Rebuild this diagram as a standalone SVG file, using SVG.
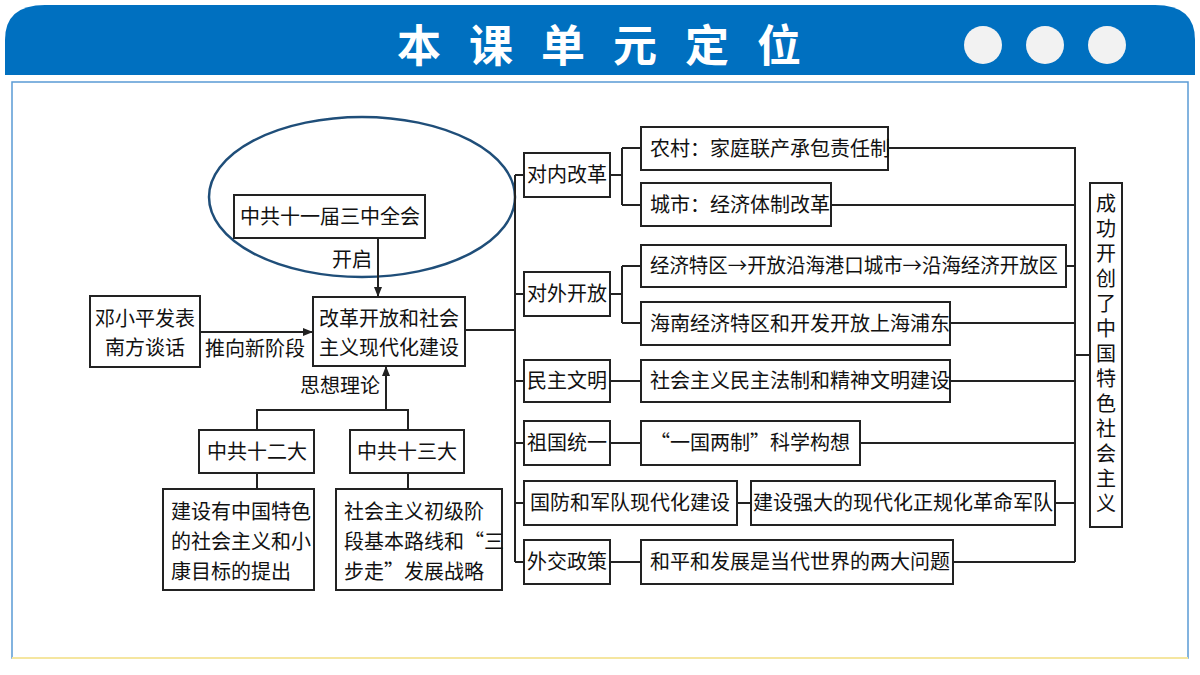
<svg xmlns="http://www.w3.org/2000/svg" width="1200" height="675" viewBox="0 0 1200 675">
<style>
.b{fill:#fff;stroke:#222;stroke-width:2}
.t{font-family:"Noto Sans CJK SC","Liberation Sans",sans-serif;font-size:20px;fill:#111}
.c{text-anchor:middle}
.l{fill:none;stroke:#222;stroke-width:2}
</style>
<defs><marker id="a" markerWidth="10" markerHeight="10" refX="9" refY="5" orient="auto" markerUnits="userSpaceOnUse"><path d="M0,1 L10,5 L0,9 Z" fill="#222"/></marker></defs>
<rect width="1200" height="675" fill="#fff"/>
<path d="M5,75 V40 Q5,5 45,5 H1155 Q1195,5 1195,40 V75 Z" fill="#0070C0"/>
<text x="613" y="62" class="c" style="font-family:'Noto Sans CJK SC',sans-serif;font-size:44px;font-weight:bold;fill:#fff;letter-spacing:28px">本课单元定位</text>
<g fill="#f2f2f2"><circle cx="983" cy="45" r="19"/><circle cx="1045" cy="45" r="19"/><circle cx="1107" cy="45" r="19"/></g>
<rect x="12" y="82" width="1176" height="576" fill="none" stroke="#5a9bd5" stroke-width="1.5"/>
<line x1="12" y1="658" x2="1188" y2="658" stroke="#f5e6a0" stroke-width="2"/>
<g id="connectors">
<ellipse cx="362" cy="197" rx="153" ry="80" fill="none" stroke="#1f4e79" stroke-width="2.5"/>
<line class="l" x1="378" y1="238" x2="378" y2="296" marker-end="url(#a)"/>
<line class="l" x1="200" y1="332" x2="312" y2="332" marker-end="url(#a)"/>
<line class="l" x1="386" y1="410" x2="386" y2="367" marker-end="url(#a)"/>
<path class="l" d="M257,430 V410 H408 V430 M257,473 V489 M408,473 V489"/>
<path class="l" d="M465,330 H515 M515,175 V562 M515,175 H524 M515,294 H524 M515,381 H524 M515,443 H524 M515,503 H524 M515,562 H524"/>
<path class="l" d="M610,175 H622 M622,148 V205 M622,148 H641 M622,205 H641 M610,294 H622 M622,266 V323 M622,266 H641 M622,323 H641 M610,381 H641 M610,443 H641 M737,503 H751 M610,562 H641"/>
<path class="l" d="M888,148 H1075 V562 M831,205 H1075 M1066,266 H1075 M950,323 H1075 M950,381 H1075 M860,443 H1075 M1055,503 H1075 M953,562 H1075 M1075,355 H1090"/>
<text x="352" y="267" class="t c">开启</text>
<text x="255" y="356" class="t c">推向新阶段</text>
<text x="340" y="393" class="t c">思想理论</text>
</g>
<g id="n1"><rect class="b" x="234" y="195" width="191" height="43"/><text x="330" y="224" class="t c">中共十一届三中全会</text></g>
<g id="n2"><rect class="b" x="313" y="297" width="152" height="69"/><text x="389" y="326" class="t c">改革开放和社会</text><text x="389" y="355" class="t c">主义现代化建设</text></g>
<g id="n3"><rect class="b" x="90" y="296" width="110" height="71"/><text x="145" y="326" class="t c">邓小平发表</text><text x="145" y="355" class="t c">南方谈话</text></g>
<g id="n4"><rect class="b" x="199" y="430" width="115" height="43"/><text x="257" y="459" class="t c">中共十二大</text></g>
<g id="n5"><rect class="b" x="350" y="430" width="114" height="43"/><text x="407" y="459" class="t c">中共十三大</text></g>
<g id="n6"><rect class="b" x="163" y="489" width="151" height="101"/><text x="171" y="519" class="t">建设有中国特色</text><text x="171" y="549" class="t">的社会主义和小</text><text x="171" y="579" class="t">康目标的提出</text></g>
<g id="n7"><rect class="b" x="336" y="489" width="166" height="101"/><text x="344" y="519" class="t">社会主义初级阶</text><text x="344" y="549" class="t">段基本路线和“三</text><text x="344" y="579" class="t">步走”发展战略</text></g>
<g id="n8"><rect class="b" x="524" y="153" width="86" height="44"/><text x="567" y="182" class="t c">对内改革</text></g>
<g id="n9"><rect class="b" x="641" y="127" width="247" height="43"/><text x="650" y="156" class="t">农村：家庭联产承包责任制</text></g>
<g id="n10"><rect class="b" x="641" y="183" width="190" height="43"/><text x="650" y="212" class="t">城市：经济体制改革</text></g>
<g id="n11"><rect class="b" x="524" y="272" width="86" height="44"/><text x="567" y="301" class="t c">对外开放</text></g>
<g id="n12"><rect class="b" x="641" y="245" width="425" height="42"/><text x="650" y="273" class="t" textLength="408" lengthAdjust="spacingAndGlyphs">经济特区→开放沿海港口城市→沿海经济开放区</text></g>
<g id="n13"><rect class="b" x="641" y="302" width="309" height="43"/><text x="650" y="331" class="t">海南经济特区和开发开放上海浦东</text></g>
<g id="n14"><rect class="b" x="524" y="360" width="86" height="42"/><text x="567" y="388" class="t c">民主文明</text></g>
<g id="n15"><rect class="b" x="641" y="360" width="309" height="42"/><text x="650" y="388" class="t">社会主义民主法制和精神文明建设</text></g>
<g id="n16"><rect class="b" x="524" y="421" width="86" height="44"/><text x="567" y="450" class="t c">祖国统一</text></g>
<g id="n17"><rect class="b" x="641" y="421" width="219" height="44"/><text x="750" y="450" class="t c">“一国两制”科学构想</text></g>
<g id="n18"><rect class="b" x="524" y="481" width="213" height="44"/><text x="630" y="510" class="t c">国防和军队现代化建设</text></g>
<g id="n19"><rect class="b" x="751" y="481" width="304" height="44"/><text x="903" y="510" class="t c">建设强大的现代化正规化革命军队</text></g>
<g id="n20"><rect class="b" x="524" y="540" width="86" height="44"/><text x="567" y="569" class="t c">外交政策</text></g>
<g id="n21"><rect class="b" x="641" y="540" width="312" height="44"/><text x="650" y="569" class="t">和平和发展是当代世界的两大问题</text></g>
<g id="n22"><rect class="b" x="1090" y="183" width="32" height="344"/><text x="1106" y="193" class="t" style="writing-mode:vertical-rl;letter-spacing:5px">成功开创了中国特色社会主义</text></g>
</svg>
